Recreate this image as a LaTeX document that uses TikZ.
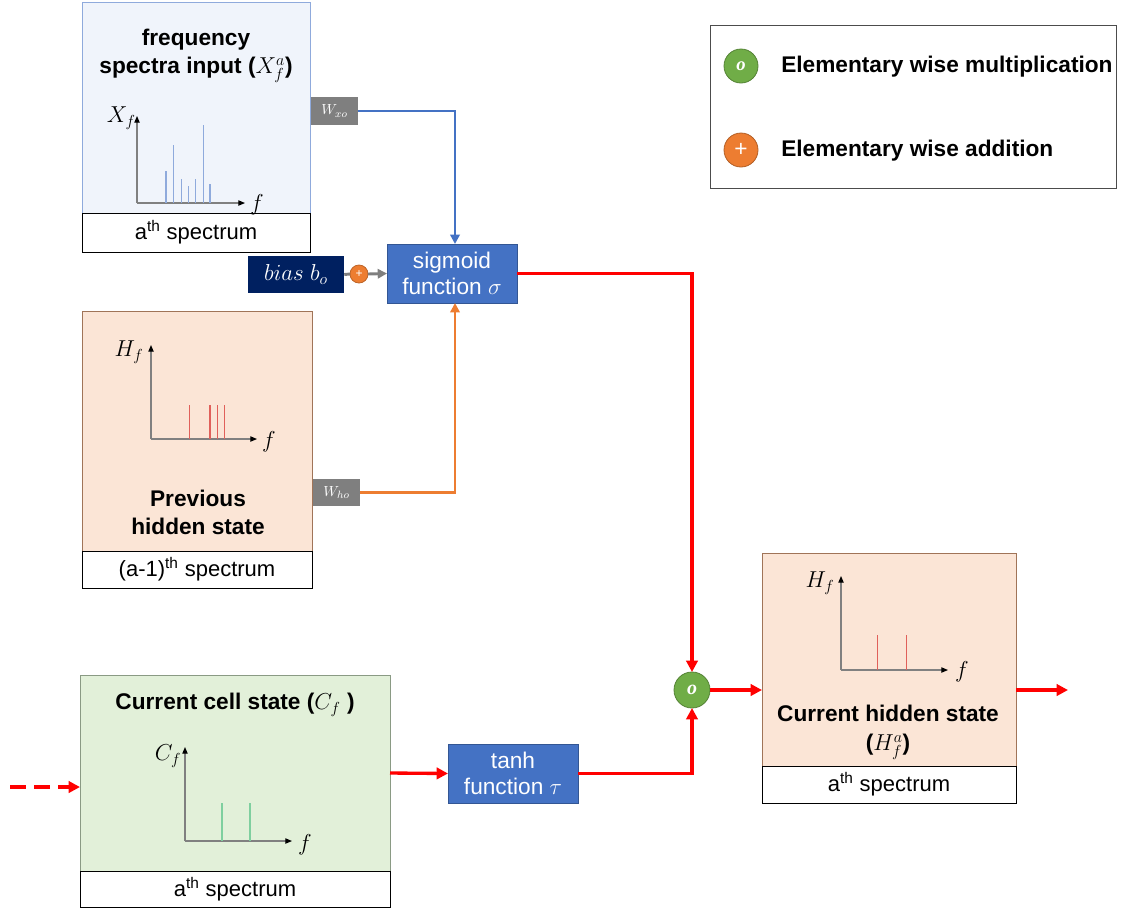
\documentclass[tikz,border=0pt]{standalone}
\usepackage{fontspec}
\setmainfont{Liberation Sans}
\newfontfamily\serifrm{Liberation Serif}
\usetikzlibrary{arrows.meta,calc}
\definecolor{boxblue}{HTML}{4472C4}
\definecolor{navy}{HTML}{002060}
\definecolor{wgrey}{HTML}{7F7F7F}
\definecolor{orng}{HTML}{ED7D31}
\definecolor{grn}{HTML}{70AD47}
\definecolor{bluefill}{HTML}{F0F4FB}
\definecolor{blueedge}{HTML}{8FAADC}
\definecolor{peach}{HTML}{FBE5D6}
\definecolor{peachedge}{HTML}{A07458}
\definecolor{greenfill}{HTML}{E2F0D9}
\definecolor{greenedge}{HTML}{8A9A84}
\definecolor{axisgrey}{HTML}{808080}
\definecolor{spkblue}{HTML}{8FAADC}
\definecolor{spkred}{HTML}{E0605A}
\definecolor{spkgreen}{HTML}{7FCF9F}
\begin{document}
\begin{tikzpicture}[x=0.75pt,y=-0.75pt,
  panel/.style={line width=0.7pt,inner sep=0pt,outer sep=0pt},
  lab/.style={draw=black,fill=white,line width=0.6pt,inner sep=0pt,outer sep=0pt,font=\fontsize{16.5pt}{20pt}\selectfont},
  fn/.style={fill=boxblue,draw=boxblue!75!black,line width=0.6pt,text=white,align=center,inner sep=0pt,outer sep=0pt,font=\fontsize{17pt}{19.5pt}\selectfont},
  wbox/.style={fill=wgrey,text=white,inner sep=0pt,outer sep=0pt,font=\fontsize{11pt}{12pt}\selectfont},
  ttl/.style={font=\bfseries\fontsize{17pt}{21pt}\selectfont,align=center,inner sep=0pt},
  axl/.style={font=\fontsize{17pt}{20pt}\selectfont,inner sep=0pt},
  axis/.style={draw=axisgrey,line width=0.8pt,-{Triangle[length=5pt,width=4pt,color=black]}},
  redline/.style={draw=red,line width=2.5pt,-{Triangle[length=8.5pt,width=8.5pt]}},
  opcircle/.style={circle,inner sep=0pt,outer sep=0pt,text=white,line width=0.6pt}
]
\useasboundingbox (0,0) rectangle (1123,911);

% ---- frequency spectra input panel ----
\node[panel,draw=blueedge,fill=bluefill,minimum width=171pt,minimum height=158.25pt] (inbox) at (196,107.5) {};
\node[lab,minimum width=171pt,minimum height=29.25pt] (inlab) at (196,232.5) {a\textsuperscript{th} spectrum};
\node[ttl] (inttl) at (196,56) {frequency\\spectra input ($X_f^a$)};
\draw[axis] (137,203) -- (137,116);
\draw[axis] (137,203) -- (245,203);
\foreach \x/\t in {166/171,173.3/145,181.3/179,188.3/186,195.3/179,203.3/125,210/184}
  \draw[spkblue,line width=0.8pt] (\x,203) -- (\x,\t);
\node[axl,anchor=east] (inxf) at (136,118) {$X_f$};
\node[axl] (inf) at (257,205) {$f$};
\node[wbox,minimum width=35.25pt,minimum height=21pt] (wxo) at (334.5,111) {$W_{xo}$};

% ---- sigmoid, bias ----
\node[fn,minimum width=97.5pt,minimum height=44.25pt] (sig) at (452,273.5) {sigmoid\\function $\sigma$};
\node[fill=navy,text=white,inner sep=0pt,minimum width=72pt,minimum height=27.75pt,font=\fontsize{17pt}{19pt}\selectfont] (bias) at (296,274.5) {$bias\ b_o$};
\node[opcircle,fill=orng,draw=orng!80!black,minimum size=13.5pt,font=\fontsize{9pt}{10pt}\selectfont] (plus) at (359,274) {+};
\draw[wgrey,line width=2.2pt] (bias.east) -- (plus.west);
\draw[wgrey,line width=2.2pt,-{Triangle[length=7pt,width=7pt]}] (plus.east) -- (sig.west);

% ---- previous hidden state panel ----
\node[panel,draw=peachedge,fill=peach,minimum width=172.5pt,minimum height=180pt] (prevbox) at (197,431) {};
\node[lab,minimum width=172.5pt,minimum height=27.75pt] (prevlab) at (197,569.5) {(a-1)\textsuperscript{th} spectrum};
\node[ttl] (prevttl) at (198,512) {Previous\\hidden state};
\draw[axis] (151,439) -- (151,345);
\draw[axis] (151,439) -- (257,439);
\foreach \x in {189.3,210,217.3,224.7}
  \draw[spkred,line width=0.8pt] (\x,439) -- (\x,405);
\node[axl] (prevhf) at (129,352) {$H_f$};
\node[axl] (prevf) at (269,442) {$f$};
\node[wbox,minimum width=35.25pt,minimum height=20.25pt] (who) at (336.5,492.5) {$W_{ho}$};

% ---- current cell state panel ----
\node[panel,draw=greenedge,fill=greenfill,minimum width=232.5pt,minimum height=147pt] (cellbox) at (235,773) {};
\node[lab,minimum width=232.5pt,minimum height=27pt] (celllab) at (235,889) {a\textsuperscript{th} spectrum};
\node[ttl] (cellttl) at (235,705) {Current cell state ($C_f$ )};
\draw[axis] (185,841) -- (185,747);
\draw[axis] (185,841) -- (292,841);
\foreach \x in {222,250}
  \draw[spkgreen,line width=0.8pt] (\x,841) -- (\x,803);
\node[axl] (cellcf) at (168,756) {$C_f$};
\node[axl] (cellf) at (305,845) {$f$};
\node[fn,minimum width=97.5pt,minimum height=44.25pt] (tanh) at (513,773.5) {tanh\\function $\tau$};

% ---- multiplication ----
\node[opcircle,fill=grn,draw=grn!75!black,minimum size=27pt,font=\serifrm\bfseries\itshape\fontsize{15pt}{16pt}\selectfont] (mult) at (692,690) {o};

% ---- current hidden state panel ----
\node[panel,draw=peachedge,fill=peach,minimum width=190.5pt,minimum height=159.75pt] (hidbox) at (889,659.5) {};
\node[lab,minimum width=190.5pt,minimum height=27.75pt] (hidlab) at (889,784.5) {a\textsuperscript{th} spectrum};
\node[ttl,font=\bfseries\fontsize{17pt}{21.75pt}\selectfont] (hidttl) at (888,732.5) {Current hidden state\\($H_f^a$)};
\draw[axis] (841,670) -- (841,576);
\draw[axis] (841,670) -- (948,670);
\foreach \x in {877.3,906.7}
  \draw[spkred,line width=0.8pt] (\x,670) -- (\x,635);
\node[axl] (hidhf) at (820,583) {$H_f$};
\node[axl] (hidf) at (962,672) {$f$};

% ---- legend ----
\node[draw=black!70,line width=0.6pt,minimum width=304.5pt,minimum height=122.25pt,inner sep=0pt] (legend) at (913,106.5) {};
\node[opcircle,fill=grn,draw=grn!75!black,minimum size=25.5pt,font=\serifrm\bfseries\itshape\fontsize{14pt}{15pt}\selectfont] (legmult) at (741,66) {o};
\node[opcircle,fill=orng,draw=orng!75!black,minimum size=25.5pt,font=\fontsize{17pt}{18pt}\selectfont] (legplus) at (741,150) {+};
\node[anchor=west,inner sep=0pt,font=\bfseries\fontsize{17pt}{20pt}\selectfont] (legt1) at (781,67) {Elementary wise multiplication};
\node[anchor=west,inner sep=0pt,font=\bfseries\fontsize{17pt}{20pt}\selectfont] (legt2) at (781,151) {Elementary wise addition};

% ---- connectors ----
\draw[draw=boxblue,line width=2.2pt,-{Triangle[length=7pt,width=7pt]}] (wxo.east) -| ([xshift=2.25pt]sig.north);
\draw[draw=orng,line width=2.2pt,-{Triangle[length=7pt,width=7pt]}] (who.east) -| ([xshift=2.25pt]sig.south);
\draw[redline] (sig.east) -| (mult.north);
\draw[redline] (cellbox.east) -- (tanh.west);
\draw[redline] (tanh.east) -| (mult.south);
\draw[redline] (mult.east) -- (mult.east -| hidbox.west);
\coordinate (outpt) at (1068,690);
\draw[redline] (outpt -| hidbox.east) -- (outpt);
\coordinate (inpt) at (10,787);
\draw[redline,dash pattern=on 12pt off 6pt] (inpt) -- (inpt -| cellbox.west);
\end{tikzpicture}
\end{document}
